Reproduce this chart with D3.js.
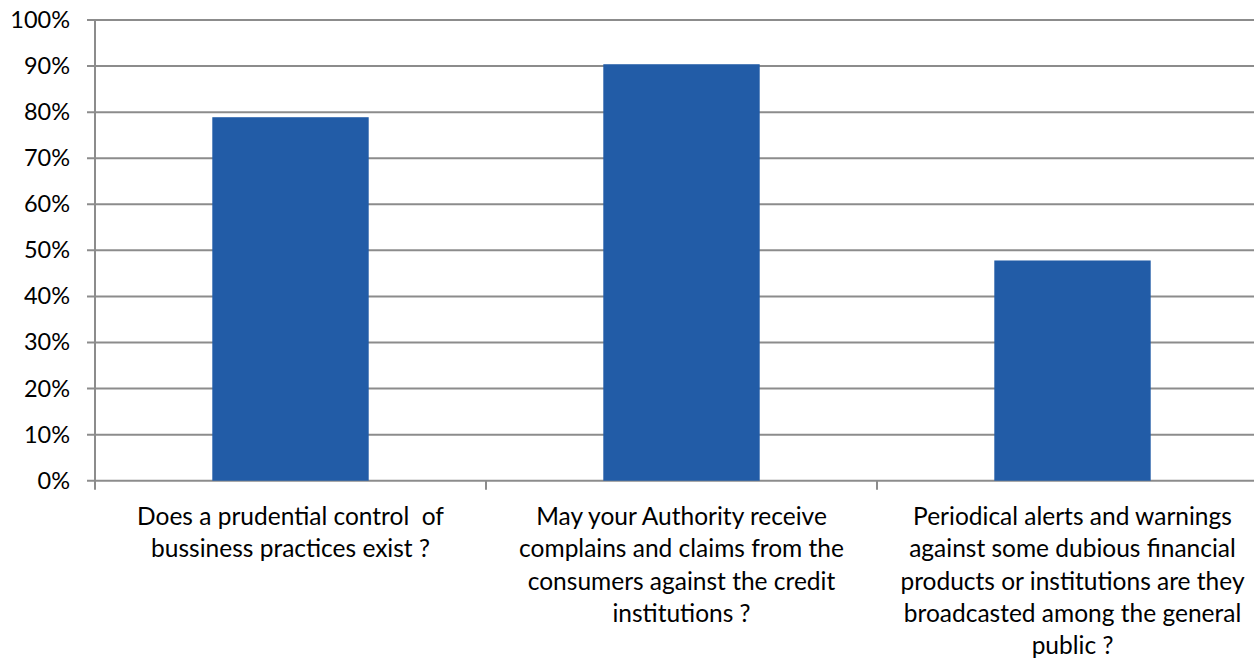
<!DOCTYPE html>
<html>
<head>
<meta charset="utf-8">
<script src="https://cdn.jsdelivr.net/npm/d3@7"></script>
<style>
  html, body { margin: 0; padding: 0; background: #fff; }
  svg { display: block; }
  text { font-family: Lato, "Open Sans", sans-serif; fill: #000; }
</style>
</head>
<body>
<svg id="chart" width="1254" height="660"></svg>
<script>
const categories = [
  "Does a prudential control  of bussiness practices exist ?",
  "May your Authority receive complains and claims from the consumers against the credit institutions ?",
  "Periodical alerts and warnings against some dubious financial products or institutions are they broadcasted among the general public ?"
];
const categoryLines = [
  ["Does a prudential control  of", "bussiness practices exist ?"],
  ["May your Authority receive", "complains and claims from the", "consumers against the credit", "institutions ?"],
  ["Periodical alerts and warnings", "against some dubious financial", "products or institutions are they", "broadcasted among the general", "public ?"]
];
const values = [0.789, 0.904, 0.478];
const yTicks = [0, 0.1, 0.2, 0.3, 0.4, 0.5, 0.6, 0.7, 0.8, 0.9, 1.0];

const svg = d3.select("#chart");
const mLeft = 95, mTop = 20, mBottom = 480.7, bandStep = 391;
const gridColor = "#8c8c8c";

const x = d3.scaleBand()
  .domain(categories)
  .range([mLeft, mLeft + bandStep * categories.length])
  .paddingInner(0.6)
  .paddingOuter(0.3);

const y = d3.scaleLinear().domain([0, 1]).range([mBottom, mTop]);

// gridlines
svg.append("g").selectAll("line")
  .data(yTicks)
  .join("line")
  .attr("x1", mLeft - 8).attr("x2", 1254)
  .attr("y1", d => y(d)).attr("y2", d => y(d))
  .attr("stroke", gridColor).attr("stroke-width", 2);

// bars
svg.append("g").selectAll("rect")
  .data(values)
  .join("rect")
  .attr("x", (d, i) => x(categories[i]))
  .attr("width", x.bandwidth())
  .attr("y", d => y(d))
  .attr("height", d => y(0) - y(d))
  .attr("fill", "#225ca7");

// y axis line
svg.append("line")
  .attr("x1", mLeft).attr("x2", mLeft)
  .attr("y1", y(1)).attr("y2", mBottom + 9)
  .attr("stroke", gridColor).attr("stroke-width", 2);

// category tick marks
svg.append("g").selectAll("line")
  .data(categories.slice(1))
  .join("line")
  .attr("x1", d => x(d) - x.step() * x.paddingInner() / 2)
  .attr("x2", d => x(d) - x.step() * x.paddingInner() / 2)
  .attr("y1", mBottom).attr("y2", mBottom + 9)
  .attr("stroke", gridColor).attr("stroke-width", 2);

// y labels
const fmt = d3.format(".0%");
svg.append("g").selectAll("text")
  .data(yTicks)
  .join("text")
  .attr("x", 70)
  .attr("y", d => y(d) + 8)
  .attr("text-anchor", "end")
  .attr("font-size", 23.5)
  .text(d => fmt(d));

// category labels
const lab = svg.append("g");
categories.forEach((c, i) => {
  const cx = x(c) + x.bandwidth() / 2;
  lab.append("text")
    .attr("text-anchor", "middle")
    .attr("font-size", 24.5)
    .style("white-space", "pre")
    .selectAll("tspan")
    .data(categoryLines[i])
    .join("tspan")
    .attr("x", cx)
    .attr("y", (d, j) => 525 + j * 32.3)
    .text(d => d);
});
</script>
</body>
</html>
